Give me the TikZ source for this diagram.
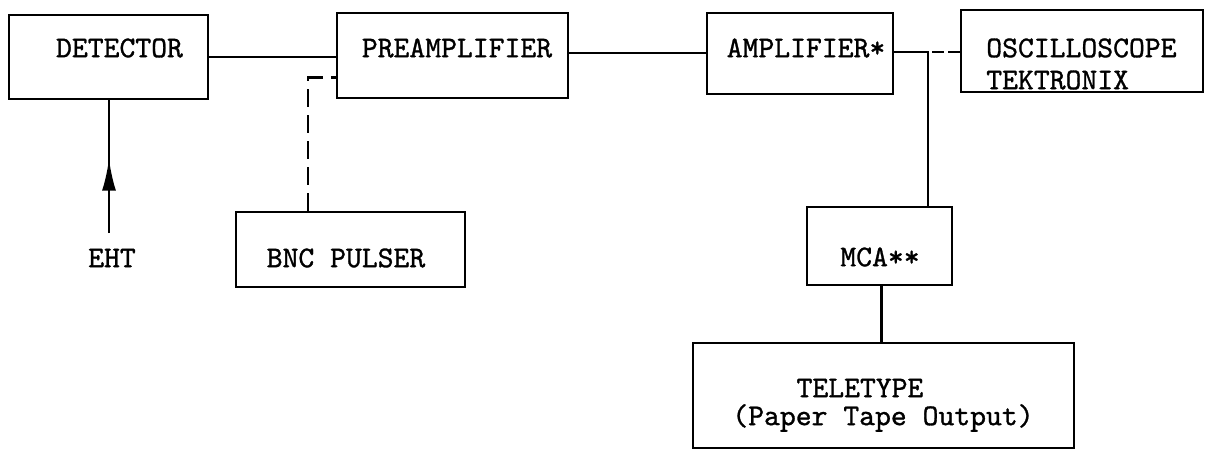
\documentclass[tikz,border=0pt]{standalone}
\usepackage{fontspec}
\setmonofont{lmmono10-regular}[Extension=.otf,FakeBold=1]
\usetikzlibrary{arrows.meta,decorations.markings}
\begin{document}
\begin{tikzpicture}[x=0.5pt,y=-0.5pt,line width=1.3pt,
  box/.style={draw,rectangle,inner sep=0pt},
  lbl/.style={inner sep=0pt,font=\ttfamily\fontsize{15.1}{16}\selectfont},
  dsh/.style={dash pattern=on 9pt off 4pt},
  midarrow/.style={postaction={decorate},decoration={markings,
    mark=at position 0.56 with {\arrow{Latex[length=16pt,width=7pt]}}}}]
\useasboundingbox (0,0) rectangle (1206,451);
\node[box,minimum width=99.5pt,minimum height=42pt] (det) at (108.5,57) {};
\node[box,minimum width=115.5pt,minimum height=42.5pt] (pre) at (452.5,55.5) {};
\node[box,minimum width=93pt,minimum height=40.5pt] (amp) at (800,53.5) {};
\node[box,minimum width=121pt,minimum height=41pt] (osc) at (1082,51) {};
\node[box,minimum width=114.5pt,minimum height=37.5pt] (bnc) at (350.5,249.5) {};
\node[box,minimum width=72.5pt,minimum height=39pt] (mca) at (879.5,246) {};
\node[box,minimum width=190.5pt,minimum height=52.5pt] (tty) at (883.5,395.5) {};
\node[lbl] (det-t) at (119.5,48) {DETECTOR};
\node[lbl] (pre-t) at (457,48) {PREAMPLIFIER};
\node[lbl] (amp-t) at (806,48) {AMPLIFIER*};
\node[lbl,anchor=west] (osc-t) at (985,48) {OSCILLOSCOPE};
\node[lbl,anchor=west] (osc-u) at (985,80) {TEKTRONIX};
\node[lbl] (bnc-t) at (346,258) {BNC PULSER};
\node[lbl] (mca-t) at (880,257) {MCA**};
\node[lbl] (tty-t) at (860,388) {TELETYPE};
\node[lbl] (tty-u) at (883,418) {(Paper Tape Output)};
\node[lbl] (eht) at (112,258) {EHT};
\coordinate (jn) at (928,52);
\draw (det.east |- 0,57) -- (pre.west |- 0,57);
\draw (pre.east |- 0,53) -- (amp.west |- 0,53);
\draw (amp.east |- jn) -- (jn) -- (jn |- mca.north);
\draw[dash pattern=on 6pt off 2pt] ([xshift=2pt]jn) -- (osc.west |- jn);
\draw ([xshift=1pt]mca.south) -- ([xshift=1pt]mca.south |- tty.north);
\draw[dsh] ([xshift=-21.25pt]bnc.north) |- ([yshift=-11pt]pre.west);
\draw[midarrow] (109,233) coordinate (eht-p) -- (eht-p |- det.south);
\end{tikzpicture}
\end{document}
